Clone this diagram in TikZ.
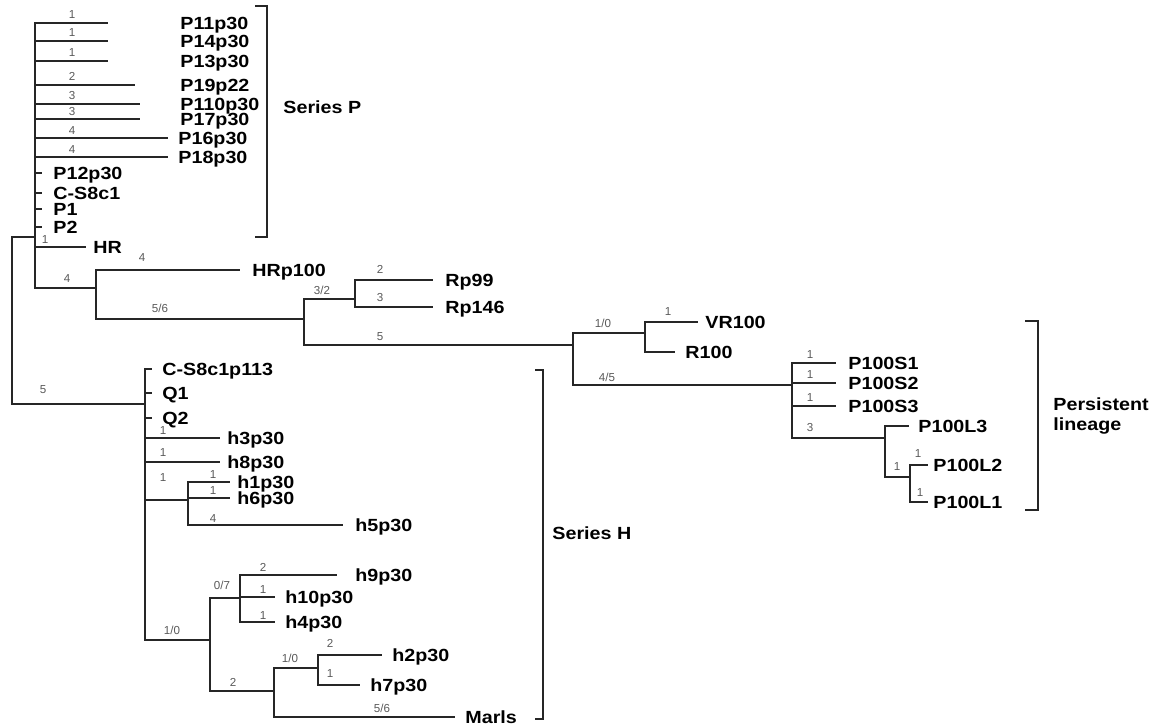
\documentclass[tikz,border=0pt]{standalone}
\usepackage{fontspec}
\setmainfont{Liberation Sans}
\newfontfamily\taxfont[FakeStretch=1.12]{Liberation Sans}

\begin{document}
\begin{tikzpicture}[
  x=0.5pt, y=-0.5pt,
  taxon/.style={font=\taxfont\fontsize{8.8}{10}\selectfont\bfseries, anchor=west,
                inner sep=0pt, text height=6.3pt, text depth=0pt},
  blen/.style={font=\fontsize{5.8}{6}\selectfont, text=black!65,
               inner sep=0pt, text height=4.1pt, text depth=0pt},
  series/.style={font=\taxfont\fontsize{8.8}{10}\selectfont\bfseries, anchor=west,
                 align=left, inner sep=0pt},
  branch/.style={line width=1.2pt, black!85},
  bracket/.style={line width=1.2pt, black!85}
]
  \useasboundingbox (0,0) rectangle (1160,725);

  % ── Internal nodes ────────────────────────────────────────────
  \coordinate (root) at (12,320);
  \coordinate (n_p)  at (35,237);
  \coordinate (n_a)  at (96,288);
  \coordinate (n_b)  at (304,319);
  \coordinate (n_c)  at (355,299);
  \coordinate (n_d)  at (573,345);
  \coordinate (n_e)  at (645,333);
  \coordinate (n_f)  at (792,385);
  \coordinate (n_g)  at (885,438);
  \coordinate (n_i)  at (910,477);
  \coordinate (n_h)  at (145,404);
  \coordinate (n_j)  at (188,500);
  \coordinate (n_k)  at (210,640);
  \coordinate (n_l)  at (240,598);
  \coordinate (n_m)  at (274,691);
  \coordinate (n_n)  at (318,668);

  % ── Series P tips and labels ──────────────────────────────────
  \coordinate (t_p11)  at (108,23);
  \coordinate (t_p14)  at (108,41);
  \coordinate (t_p13)  at (108,61);
  \coordinate (t_p19)  at (135,85);
  \coordinate (t_p110) at (140,104);
  \coordinate (t_p17)  at (140,119);
  \coordinate (t_p16)  at (168,138);
  \coordinate (t_p18)  at (168,157);
  \coordinate (t_p12)  at (42,173);
  \coordinate (t_cs8)  at (42,193);
  \coordinate (t_p1)   at (42,209);
  \coordinate (t_p2)   at (42,227);
  \coordinate (t_hr)   at (86,247);
  \node[taxon] (l_p11)  at (180,23)  {P11p30};
  \node[taxon] (l_p14)  at (180,41)  {P14p30};
  \node[taxon] (l_p13)  at (180,61)  {P13p30};
  \node[taxon] (l_p19)  at (180,85)  {P19p22};
  \node[taxon] (l_p110) at (180,104) {P110p30};
  \node[taxon] (l_p17)  at (180,119) {P17p30};
  \node[taxon] (l_p16)  at (178,138) {P16p30};
  \node[taxon] (l_p18)  at (178,157) {P18p30};
  \node[taxon] (l_p12)  at (53,173)  {P12p30};
  \node[taxon] (l_cs8)  at (53,193)  {C-S8c1};
  \node[taxon] (l_p1)   at (53,209)  {P1};
  \node[taxon] (l_p2)   at (53,227)  {P2};
  \node[taxon] (l_hr)   at (93,247)  {HR};

  % ── R / persistent tips and labels ────────────────────────────
  \coordinate (t_hrp100) at (240,270);
  \coordinate (t_rp99)   at (433,280);
  \coordinate (t_rp146)  at (433,307);
  \coordinate (t_vr100)  at (698,322);
  \coordinate (t_r100)   at (675,352);
  \coordinate (t_s1)     at (836,363);
  \coordinate (t_s2)     at (836,383);
  \coordinate (t_s3)     at (836,406);
  \coordinate (t_l3)     at (909,426);
  \coordinate (t_l2)     at (928,465);
  \coordinate (t_l1)     at (928,502);
  \node[taxon] (l_hrp100) at (252,270) {HRp100};
  \node[taxon] (l_rp99)   at (445,280) {Rp99};
  \node[taxon] (l_rp146)  at (445,307) {Rp146};
  \node[taxon] (l_vr100)  at (705,322) {VR100};
  \node[taxon] (l_r100)   at (685,352) {R100};
  \node[taxon] (l_s1)     at (848,363) {P100S1};
  \node[taxon] (l_s2)     at (848,383) {P100S2};
  \node[taxon] (l_s3)     at (848,406) {P100S3};
  \node[taxon] (l_l3)     at (918,426) {P100L3};
  \node[taxon] (l_l2)     at (933,465) {P100L2};
  \node[taxon] (l_l1)     at (933,502) {P100L1};

  % ── Series H tips and labels ──────────────────────────────────
  \coordinate (t_cs8p) at (152,369);
  \coordinate (t_q1)   at (152,393);
  \coordinate (t_q2)   at (152,418);
  \coordinate (t_h3)   at (220,438);
  \coordinate (t_h8)   at (220,462);
  \coordinate (t_h1)   at (230,482);
  \coordinate (t_h6)   at (230,498);
  \coordinate (t_h5)   at (343,525);
  \coordinate (t_h9)   at (337,575);
  \coordinate (t_h10)  at (275,597);
  \coordinate (t_h4)   at (275,622);
  \coordinate (t_h2)   at (382,655);
  \coordinate (t_h7)   at (360,685);
  \coordinate (t_marl) at (455,717);
  \node[taxon] (l_cs8p) at (162,369) {C-S8c1p113};
  \node[taxon] (l_q1)   at (162,393) {Q1};
  \node[taxon] (l_q2)   at (162,418) {Q2};
  \node[taxon] (l_h3)   at (227,438) {h3p30};
  \node[taxon] (l_h8)   at (227,462) {h8p30};
  \node[taxon] (l_h1)   at (237,482) {h1p30};
  \node[taxon] (l_h6)   at (237,498) {h6p30};
  \node[taxon] (l_h5)   at (355,525) {h5p30};
  \node[taxon] (l_h9)   at (355,575) {h9p30};
  \node[taxon] (l_h10)  at (285,597) {h10p30};
  \node[taxon] (l_h4)   at (285,622) {h4p30};
  \node[taxon] (l_h2)   at (392,655) {h2p30};
  \node[taxon] (l_h7)   at (370,685) {h7p30};
  \node[taxon] (l_marl) at (465,717) {Marls};

  % ── Branches ─────────────────────────────────────────────────
  \foreach \a/\b in {root/n_p, root/n_h,
                     n_p/t_p11, n_p/t_p14, n_p/t_p13, n_p/t_p19, n_p/t_p110,
                     n_p/t_p17, n_p/t_p16, n_p/t_p18, n_p/t_p12, n_p/t_cs8,
                     n_p/t_p1, n_p/t_p2, n_p/t_hr, n_p/n_a,
                     n_a/t_hrp100, n_a/n_b, n_b/n_c, n_b/n_d,
                     n_c/t_rp99, n_c/t_rp146, n_d/n_e, n_d/n_f,
                     n_e/t_vr100, n_e/t_r100,
                     n_f/t_s1, n_f/t_s2, n_f/t_s3, n_f/n_g,
                     n_g/t_l3, n_g/n_i, n_i/t_l2, n_i/t_l1,
                     n_h/t_cs8p, n_h/t_q1, n_h/t_q2, n_h/t_h3, n_h/t_h8,
                     n_h/n_j, n_h/n_k, n_j/t_h1, n_j/t_h6, n_j/t_h5,
                     n_k/n_l, n_k/n_m, n_l/t_h9, n_l/t_h10, n_l/t_h4,
                     n_m/n_n, n_m/t_marl, n_n/t_h2, n_n/t_h7}
    \draw[branch] (\a) |- (\b);

  % ── Branch lengths ───────────────────────────────────────────
  \node[blen] (b_root) at (43,389)  {5};
  \node[blen] (b_p11)  at (72,14)   {1};
  \node[blen] (b_p14)  at (72,32)   {1};
  \node[blen] (b_p13)  at (72,52)   {1};
  \node[blen] (b_p19)  at (72,76)   {2};
  \node[blen] (b_p110) at (72,95)   {3};
  \node[blen] (b_p17)  at (72,111)  {3};
  \node[blen] (b_p16)  at (72,130)  {4};
  \node[blen] (b_p18)  at (72,149)  {4};
  \node[blen] (b_hr)   at (45,239)  {1};
  \node[blen] (b_a)    at (67,278)  {4};
  \node[blen] (b_hrp)  at (142,257) {4};
  \node[blen] (b_b)    at (160,308) {5/6};
  \node[blen] (b_c)    at (322,290) {3/2};
  \node[blen] (b_rp99) at (380,269) {2};
  \node[blen] (b_rp146) at (380,297) {3};
  \node[blen] (b_d)    at (380,336) {5};
  \node[blen] (b_e)    at (603,323) {1/0};
  \node[blen] (b_vr)   at (668,311) {1};
  \node[blen] (b_f)    at (607,377) {4/5};
  \node[blen] (b_s1)   at (810,354) {1};
  \node[blen] (b_s2)   at (810,374) {1};
  \node[blen] (b_s3)   at (810,397) {1};
  \node[blen] (b_g)    at (810,427) {3};
  \node[blen] (b_i)    at (897,466) {1};
  \node[blen] (b_l2)   at (918,453) {1};
  \node[blen] (b_l1)   at (920,492) {1};
  \node[blen] (b_h3)   at (163,430) {1};
  \node[blen] (b_h8)   at (163,452) {1};
  \node[blen] (b_j)    at (163,477) {1};
  \node[blen] (b_h1)   at (213,474) {1};
  \node[blen] (b_h6)   at (213,490) {1};
  \node[blen] (b_h5)   at (213,518) {4};
  \node[blen] (b_k)    at (172,630) {1/0};
  \node[blen] (b_l)    at (222,585) {0/7};
  \node[blen] (b_h9)   at (263,567) {2};
  \node[blen] (b_h10)  at (263,589) {1};
  \node[blen] (b_h4)   at (263,615) {1};
  \node[blen] (b_m)    at (233,682) {2};
  \node[blen] (b_n)    at (290,658) {1/0};
  \node[blen] (b_h2)   at (330,643) {2};
  \node[blen] (b_h7)   at (330,673) {1};
  \node[blen] (b_marl) at (382,708) {5/6};

  % ── Group brackets ───────────────────────────────────────────
  \coordinate (sp_t) at (255,6);
  \coordinate (sp_b) at (255,237);
  \coordinate (sh_t) at (535,370);
  \coordinate (sh_b) at (535,719);
  \coordinate (pl_t) at (1025,321);
  \coordinate (pl_b) at (1025,510);
  \draw[bracket] (sp_t) -- ++(12,0) |- (sp_b);
  \draw[bracket] (sh_t) -- ++(8,0)  |- (sh_b);
  \draw[bracket] (pl_t) -- ++(13,0) |- (pl_b);
  \node[series] (series_p) at (283,107)  {Series P};
  \node[series] (series_h) at (552,533)  {Series H};
  \node[series] (persist)  at (1053,416) {Persistent\\lineage};

\end{tikzpicture}
\end{document}
